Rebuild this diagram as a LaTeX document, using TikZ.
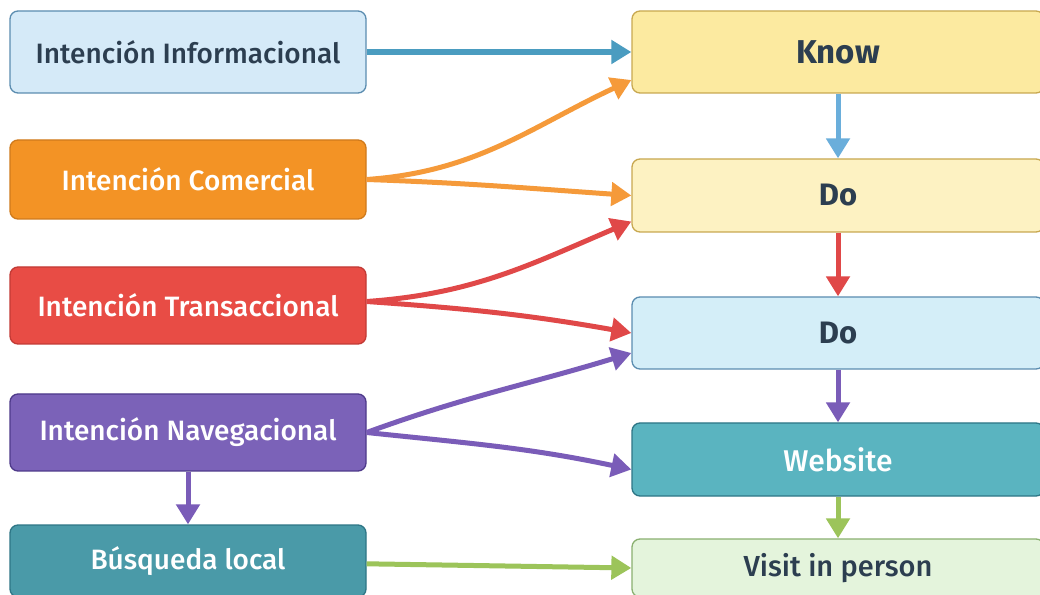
\documentclass[tikz,border=0pt]{standalone}
\usepackage{fontspec}
\setmainfont{Fira Sans}[UprightFont={* Medium},BoldFont={* Bold}]
\usetikzlibrary{arrows.meta}
\definecolor{txtdark}{HTML}{2C3E50}
\definecolor{infofill}{HTML}{D5EAF8}
\definecolor{infoline}{HTML}{5B8DB0}
\definecolor{comfill}{HTML}{F39325}
\definecolor{comline}{HTML}{CF7A1C}
\definecolor{trafill}{HTML}{E84C45}
\definecolor{traline}{HTML}{C23A35}
\definecolor{navfill}{HTML}{7B62B8}
\definecolor{navline}{HTML}{4E3A8A}
\definecolor{busfill}{HTML}{4A9AA8}
\definecolor{busline}{HTML}{2E7686}
\definecolor{knowfill}{HTML}{FCEAA0}
\definecolor{dofill}{HTML}{FDF2C2}
\definecolor{yelline}{HTML}{C8A850}
\definecolor{dotwofill}{HTML}{D4EEF8}
\definecolor{webfill}{HTML}{5AB4C0}
\definecolor{visfill}{HTML}{E4F4DC}
\definecolor{visline}{HTML}{8AB070}
\definecolor{arrblue}{HTML}{4A9CC0}
\definecolor{arrlight}{HTML}{6AAEDB}
\definecolor{arrorange}{HTML}{F59A3A}
\definecolor{arrred}{HTML}{E04848}
\definecolor{arrpurple}{HTML}{7A5CB8}
\definecolor{arrgreen}{HTML}{9CC45A}

\begin{document}
\begin{tikzpicture}[x=1pt,y=1pt,
  leftbox/.style={draw,rounded corners=8pt,line width=1.3pt,minimum width=356pt,inner sep=0pt,font=\fontsize{28}{32}\selectfont},
  rightbox/.style={draw,rounded corners=8pt,line width=1.3pt,minimum width=412pt,inner sep=0pt,font=\fontsize{29}{33}\selectfont},
  link/.style={line width=5pt,-{Triangle[length=20pt,width=23pt]}}]
  \clip (0,0) rectangle (1040,594);
  \fill[white] (0,0) rectangle (1040,594);

  \node[leftbox,fill=infofill,draw=infoline,text=txtdark,minimum height=82pt] (inf) at (188,542) {Intención Informacional};
  \node[leftbox,fill=comfill,draw=comline,text=white,minimum height=79pt] (com) at (188,414.5) {Intención Comercial};
  \node[leftbox,fill=trafill,draw=traline,text=white,minimum height=77pt] (tra) at (188,288.5) {Intención Transaccional};
  \node[leftbox,fill=navfill,draw=navline,text=white,minimum height=77pt] (nav) at (188,161.5) {Intención Navegacional};
  \node[leftbox,fill=busfill,draw=busline,text=white,minimum height=72pt] (bus) at (188,33) {Búsqueda local};

  \node[rightbox,fill=knowfill,draw=yelline,text=txtdark,minimum height=82pt,font=\fontsize{33}{37}\selectfont\bfseries] (know) at (838,542) {Know};
  \node[rightbox,fill=dofill,draw=yelline,text=txtdark,minimum height=73pt,font=\fontsize{31}{35}\selectfont\bfseries] (doa) at (838,398.5) {Do};
  \node[rightbox,fill=dotwofill,draw=infoline,text=txtdark,minimum height=72pt,font=\fontsize{31}{35}\selectfont\bfseries] (dob) at (838,261) {Do};
  \node[rightbox,fill=webfill,draw=busline,text=white,minimum height=73pt,font=\fontsize{30}{34}\selectfont] (web) at (838,134.5) {Website};
  \node[rightbox,fill=visfill,draw=visline,text=txtdark,minimum height=58pt] (vis) at (838,26) {Visit in person};

  \draw[link,arrblue,line width=6pt] (inf) -- (know);
  \draw[link,arrorange] (com.east) to[out=4,in=205] ([yshift=-28pt]know.west);
  \draw[link,arrorange] (com.east) to[out=-2,in=176] (doa.west);
  \draw[link,arrred] ([yshift=4pt]tra.east) to[out=4,in=203] ([yshift=-26pt]doa.west);
  \draw[link,arrred] ([yshift=4pt]tra.east) to[out=-4,in=170] (dob.west);
  \draw[link,arrpurple] (nav.east) to[out=20,in=197] ([yshift=-20pt]dob.west);
  \draw[link,arrpurple] (nav.east) to[out=-6,in=168] ([yshift=-10pt]web.west);
  \draw[link,arrgreen] (bus) -- (vis.west);

  \draw[link,arrlight] (know) -- (doa);
  \draw[link,arrred] (doa) -- (dob);
  \draw[link,arrpurple] (dob) -- (web);
  \draw[link,arrgreen] (web) -- (vis);
  \draw[link,arrpurple] (nav) -- (bus);
\end{tikzpicture}
\end{document}
